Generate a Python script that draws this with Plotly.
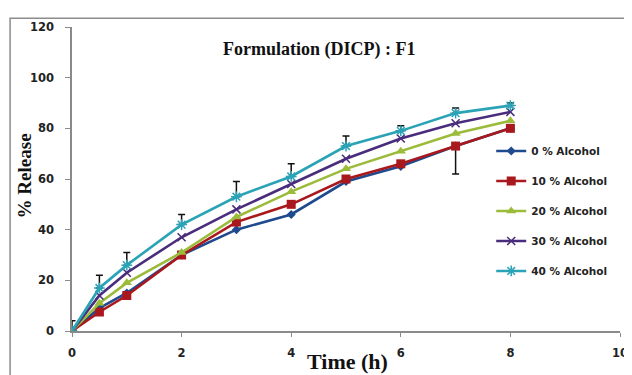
import plotly.graph_objects as go

# ---- data ----
time_h = [0, 0.5, 1, 2, 3, 4, 5, 6, 7, 8]
alc0 = [0, 9, 15, 30, 40, 46, 59, 65, 73, 80]
alc10 = [0, 7.5, 14, 30, 43, 50, 60, 66, 73, 80]
alc20 = [0, 11, 19, 31, 45, 55, 64, 71, 78, 83]
alc30 = [0, 14, 23, 37, 48, 58, 68, 76, 82, 86.5]
alc40 = [0, 17, 26, 42, 53, 61, 73, 79, 86, 89]
err40_plus = [4, 5, 5, 4, 6, 5, 4, 2, 2, 1]
err10_minus = [0, 0, 0, 0, 0, 0, 0, 0, 11, 0]
names = ["0 % Alcohol", "10 % Alcohol", "20 % Alcohol", "30 % Alcohol", "40 % Alcohol"]
x_ticks = [0, 2, 4, 6, 8, 10]
y_ticks = [0, 20, 40, 60, 80, 100, 120]

colors = ["#1f4a8e", "#a8181c", "#9bbb3a", "#4a2c7c", "#2aa3b6"]

fig = go.Figure()

series = [alc0, alc10, alc20, alc30, alc40]
symbols = ["diamond", "square", "triangle-up", "x-thin", "asterisk"]
sizes = [7, 9, 9, 8, 9]

for i, (vals, nm) in enumerate(zip(series, names)):
    marker = dict(symbol=symbols[i], size=sizes[i], color=colors[i],
                  line=dict(color=colors[i], width=1.5 if i >= 3 else 0))
    err = None
    if i == 4:
        err = dict(type="data", array=err40_plus, arrayminus=[0] * len(err40_plus),
                   symmetric=False, color="#111111", thickness=1.5, width=3.5)
    if i == 1:
        err = dict(type="data", array=[0] * len(err10_minus), arrayminus=err10_minus,
                   symmetric=False, color="#111111", thickness=1.5, width=3.5)
    fig.add_trace(go.Scatter(
        x=time_h, y=vals, name=nm, mode="lines+markers",
        line=dict(color=colors[i], width=2.6),
        marker=marker, error_y=err, legendgroup=nm,
    ))

# page body has an 8px default margin; margins compensate so the plot area
# sits at x 72..622, y 22..331 in the window
fig.update_layout(
    width=632, height=375,
    margin=dict(l=64, r=18, t=14, b=52),
    paper_bgcolor="white", plot_bgcolor="white",
    showlegend=True,
    legend=dict(x=0.765, y=0.64, xanchor="left", yanchor="top",
                font=dict(family="DejaVu Sans", size=10.5, color="#222", weight="bold"),
                bgcolor="rgba(0,0,0,0)", itemwidth=30, tracegroupgap=11),
    font=dict(family="DejaVu Sans", color="#222"),
)

fig.update_xaxes(range=[0, 10], tickvals=x_ticks, showgrid=False, zeroline=False,
                 showline=True, linecolor="#8a8a8a", linewidth=1.5,
                 ticks="outside", ticklen=4, tickcolor="#8a8a8a",
                 ticklabelstandoff=6,
                 tickfont=dict(family="DejaVu Sans", size=11.5, color="#222", weight="bold"))
fig.update_yaxes(range=[0, 120], tickvals=y_ticks, showgrid=False, zeroline=False,
                 showline=True, linecolor="#8a8a8a", linewidth=1.5,
                 ticks="outside", ticklen=5, tickcolor="#8a8a8a",
                 ticklabelstandoff=9,
                 tickfont=dict(family="DejaVu Sans", size=11.5, color="#222", weight="bold"))

# outer frame
fig.add_shape(type="rect", xref="paper", yref="paper",
              x0=-0.113, x1=1.013, y0=-0.2, y1=1.029,
              line=dict(color="#8c8c8c", width=1.5), fillcolor="rgba(0,0,0,0)", layer="below")

serif = "Liberation Serif"
fig.add_annotation(text="<b>Formulation (DICP) : F1</b>", xref="paper", yref="paper",
                   x=0.45, y=0.925, xanchor="center", yanchor="middle", showarrow=False,
                   font=dict(family=serif, size=18, color="#111"))
fig.add_annotation(text="<b>% Release</b>", xref="paper", yref="paper",
                   x=-0.085, y=0.51, xanchor="center", yanchor="middle", showarrow=False,
                   textangle=-90, font=dict(family=serif, size=19, color="#111"))
fig.add_annotation(text="<b>Time (h)</b>", xref="paper", yref="paper",
                   x=0.502, y=-0.1, xanchor="center", yanchor="middle", showarrow=False,
                   font=dict(family=serif, size=22, color="#111"))

fig.write_html("out.html")
